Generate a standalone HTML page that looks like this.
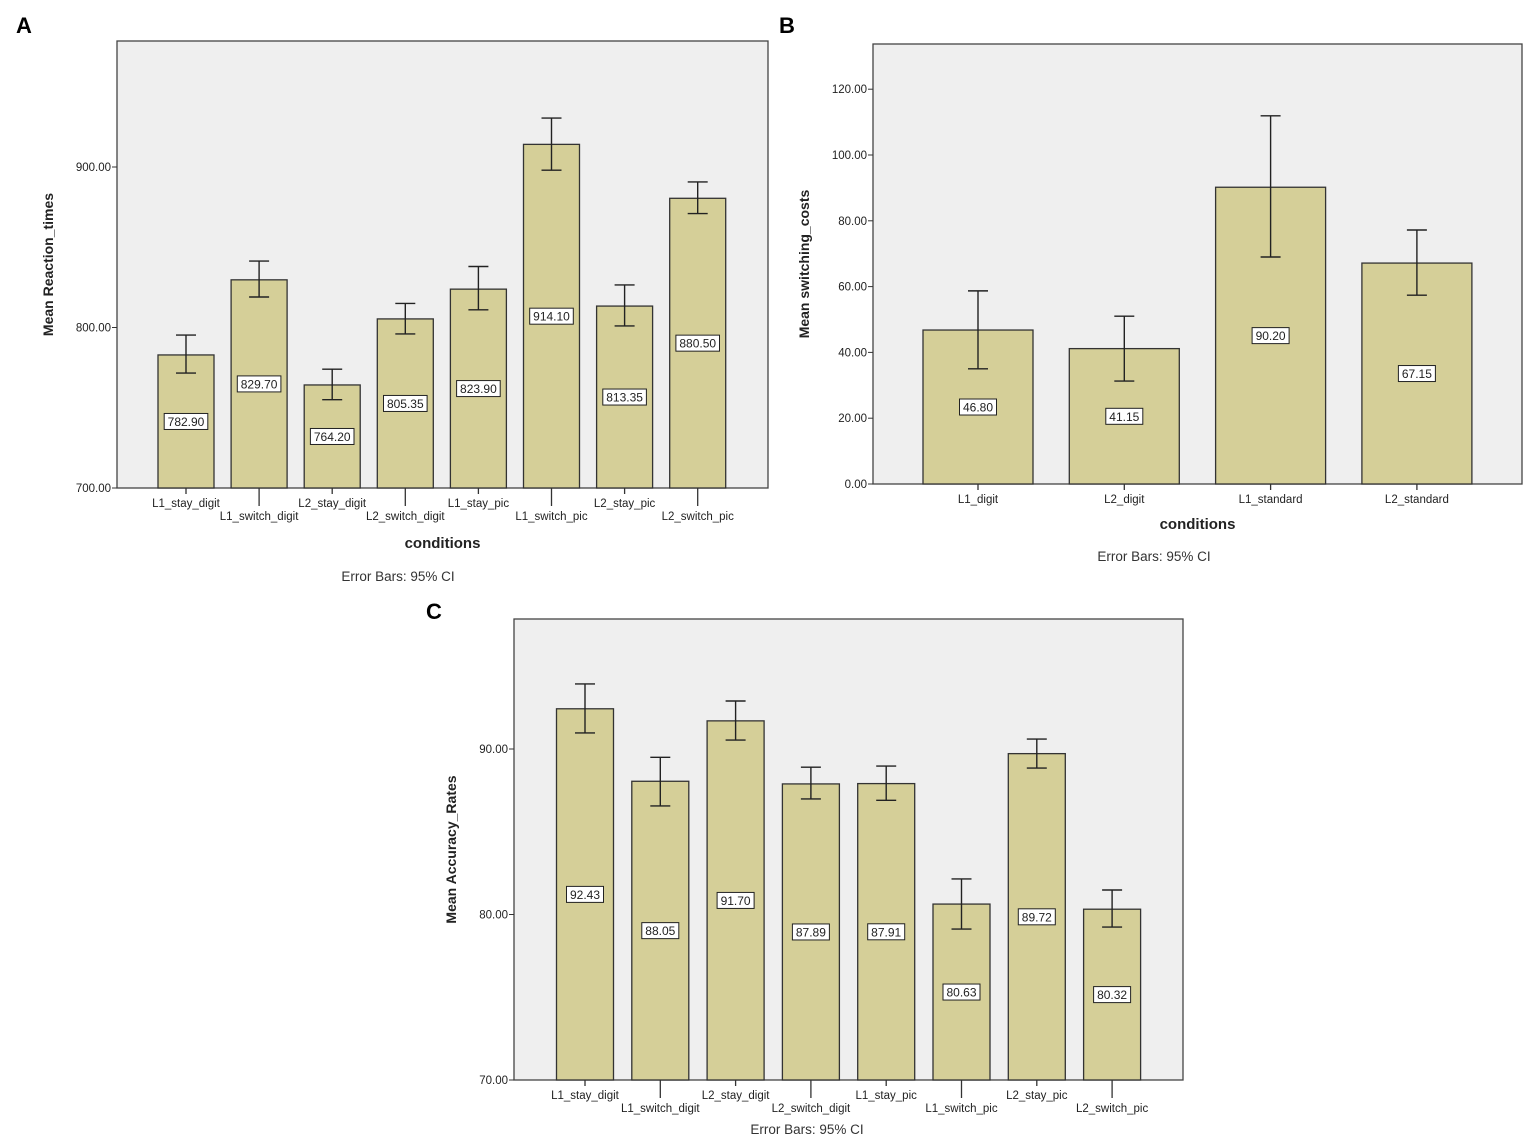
<!DOCTYPE html>
<html><head><meta charset="utf-8"><style>
body{margin:0;background:#fff;width:1535px;height:1142px;overflow:hidden}
svg{position:absolute;left:0;top:0}
text{font-family:"Liberation Sans",Arial,sans-serif}
</style></head><body>
<svg id="chart" width="1535" height="1142" viewBox="0 0 1535 1142"></svg>
<script>
// Panel A data
const catsA=["L1_stay_digit","L1_switch_digit","L2_stay_digit","L2_switch_digit","L1_stay_pic","L1_switch_pic","L2_stay_pic","L2_switch_pic"];
const valsA=[782.90,829.70,764.20,805.35,823.90,914.10,813.35,880.50];
const hiA=[795.3,841.4,774.0,815.0,838.0,930.5,826.5,890.7];
const loA=[771.6,819.0,755.0,796.0,811.0,898.0,801.0,871.0];
const ticksA=[700,800,900];
// Panel B data
const catsB=["L1_digit","L2_digit","L1_standard","L2_standard"];
const valsB=[46.80,41.15,90.20,67.15];
const hiB=[58.7,51.0,111.9,77.2];
const loB=[35.0,31.3,69.0,57.4];
const ticksB=[0,20,40,60,80,100,120];
// Panel C data
const catsC=["L1_stay_digit","L1_switch_digit","L2_stay_digit","L2_switch_digit","L1_stay_pic","L1_switch_pic","L2_stay_pic","L2_switch_pic"];
const valsC=[92.43,88.05,91.70,87.89,87.91,80.63,89.72,80.32];
const hiC=[93.93,89.5,92.9,88.9,88.97,82.15,90.6,81.48];
const loC=[90.97,86.56,90.54,86.98,86.9,79.12,88.85,79.24];
const ticksC=[70,80,90];

const NS="http://www.w3.org/2000/svg";
const svg=document.getElementById('chart');
function mk(tag,attrs,parent,txt){const e=document.createElementNS(NS,tag);for(const k in attrs)e.setAttribute(k,attrs[k]);if(txt!==undefined)e.textContent=txt;(parent||svg).appendChild(e);return e;}

function panel(p){
  const g=mk('g',{});
  
  
  const y=v=>p.y1-(v-p.vmin)/(p.vmax-p.vmin)*(p.y1-p.y0);
  const r=mk('rect',{x:p.x0,y:p.y0,width:p.x1-p.x0,height:p.y1-p.y0,fill:'#efefef',stroke:'#444','stroke-width':1.3},g);
  
  
  p.ticks.forEach(t=>{
    const yy=y(t);
    mk('line',{x1:p.x0-5,x2:p.x0,y1:yy,y2:yy,stroke:'#333','stroke-width':1},g);
    const tl=mk('text',{x:p.x0-6,y:yy+4,'text-anchor':'end','font-size':11.5,fill:'#222'},g,t.toFixed(2));
    
    
  });
  p.cats.forEach((c,i)=>{
    const cx=p.cx0+i*p.step;
    const top=y(p.vals[i]);
    const b=mk('rect',{x:cx-p.bw/2,y:top,width:p.bw,height:p.y1-top,fill:'#d5cf98',stroke:'#333','stroke-width':1.3},g);
    
    
    const yh=y(p.hi[i]),yl=y(p.lo[i]);
    const e=mk('path',{d:`M${cx},${yh}V${yl}M${cx-10},${yh}H${cx+10}M${cx-10},${yl}H${cx+10}`,stroke:'#222','stroke-width':1.4,fill:'none'},g);
    
    
    const my=(top+p.y1)/2;
    const lab=p.vals[i].toFixed(2);
    const w=lab.length*6.6+4;
    const lb=mk('rect',{x:cx-w/2,y:my-8,width:w,height:16,fill:'#fff',stroke:'#222','stroke-width':1},g);
    
    
    const vt=mk('text',{x:cx,y:my+4.5,'text-anchor':'middle','font-size':12,fill:'#222'},g,lab);
    
    
    const stag=p.stagger&&(i%2===1);
    mk('line',{x1:cx,x2:cx,y1:p.y1,y2:p.y1+(stag?18:6),stroke:'#333','stroke-width':1.3},g);
    const xl=mk('text',{x:cx,y:p.y1+(stag?32:19),'text-anchor':'middle','font-size':11.5,fill:'#222'},g,c);
    
    
  });
  const yt=mk('text',{x:0,y:0,'text-anchor':'middle','font-size':14,'font-weight':'bold',fill:'#222',transform:`translate(${p.ytx},${(p.y0+p.y1)/2}) rotate(-90)`},g,p.ytitle);
  
  
  if(p.xty){
    const xt=mk('text',{x:(p.x0+p.x1)/2,y:p.xty,'text-anchor':'middle','font-size':15,'font-weight':'bold',fill:'#222'},g,'conditions');
    
    
  }
  const note=mk('text',{x:p.notx,y:p.noty,'text-anchor':'middle','font-size':13.5,fill:'#333'},g,'Error Bars: 95% CI');
  
  
  const pl=mk('text',{x:p.lx,y:p.ly,'font-size':22,'font-weight':'bold',fill:'#000'},g,p.letter);
  
  
}
panel({name:'panel-a',letter:'A',lx:16,ly:33,x0:117,x1:768,y0:41,y1:488,vmin:700,vmax:700+447/1.605,ticks:ticksA,cats:catsA,vals:valsA,hi:hiA,lo:loA,cx0:186,step:73.1,bw:56,stagger:true,ytitle:'Mean Reaction_times',ytx:53,xty:548,notx:398,noty:581});
panel({name:'panel-b',letter:'B',lx:779,ly:33,x0:873,x1:1522,y0:44,y1:484,vmin:0,vmax:440/3.29,ticks:ticksB,cats:catsB,vals:valsB,hi:hiB,lo:loB,cx0:978,step:146.3,bw:110,stagger:false,ytitle:'Mean switching_costs',ytx:809,xty:529,notx:1154,noty:561});
panel({name:'panel-c',letter:'C',lx:426,ly:619,x0:514,x1:1183,y0:619,y1:1080,vmin:70,vmax:70+461/16.55,ticks:ticksC,cats:catsC,vals:valsC,hi:hiC,lo:loC,cx0:585,step:75.3,bw:57,stagger:true,ytitle:'Mean Accuracy_Rates',ytx:456,xty:0,notx:807,noty:1134});
</script>
</body></html>
